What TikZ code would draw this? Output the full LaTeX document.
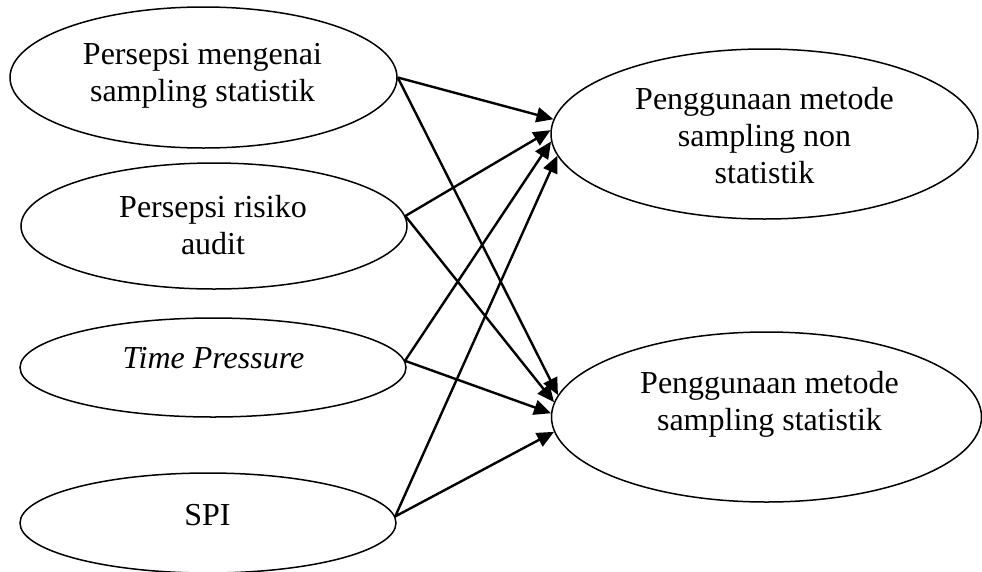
\documentclass[tikz,border=0pt]{standalone}
\usepackage{fontspec}
\setmainfont{Liberation Serif}
\usetikzlibrary{shapes.geometric,arrows.meta}
\tikzset{
  ell/.style={draw, ellipse, line width=1.5pt, inner sep=0pt},
  txt/.style={align=center, font=\fontsize{32}{37}\selectfont, inner sep=0pt},
  conn/.style={line width=2.4pt, -{Triangle[length=17pt,width=15pt]}}
}
\begin{document}
\begin{tikzpicture}[x=1pt,y=-1pt]
\useasboundingbox (0,0) rectangle (982,571);
% left ellipses
\node[ell, minimum width=387pt, minimum height=141pt] (e1) at (203.5,77.5) {};
\node[ell, minimum width=386pt, minimum height=126pt] (e2) at (214,226) {};
\node[ell, minimum width=386pt, minimum height=99pt] (tp) at (213,367.5) {};
\node[ell, minimum width=376pt, minimum height=100pt] (spi) at (208,523) {};
% right ellipses
\node[ell, minimum width=427pt, minimum height=170pt] (r1) at (764.5,134) {};
\node[ell, minimum width=430pt, minimum height=170pt] (r2) at (766.5,417) {};
% texts
\node[txt] (e1t) at (202.5,76) {Persepsi mengenai\\sampling statistik};
\node[txt] (e2t) at (213,225.5) {Persepsi risiko\\audit};
\node[txt] (tpt) at (213.5,358) {\itshape Time Pressure};
\node[txt] (spit) at (207.5,515.5) {SPI};
\node[txt] (r1t) at (764.5,136) {Penggunaan metode\\sampling non\\statistik};
\node[txt] (r2t) at (769.5,404) {Penggunaan metode\\sampling statistik};
% connectors
\draw[conn] (e1.east) -- (r1.176.3);
\draw[conn] (e1.east) -- (r2.174.5);
\draw[conn] (e2.3) -- (r1.179);
\draw[conn] (e2.3) -- (r2.176);
\draw[conn] (tp.2) -- (r1.182.4);
\draw[conn] (tp.2) -- (r2.179.2);
\draw[conn] (spi.2.5) -- (r1.186.6);
\draw[conn] (spi.2.5) -- (r2.184.2);
\end{tikzpicture}
\end{document}
